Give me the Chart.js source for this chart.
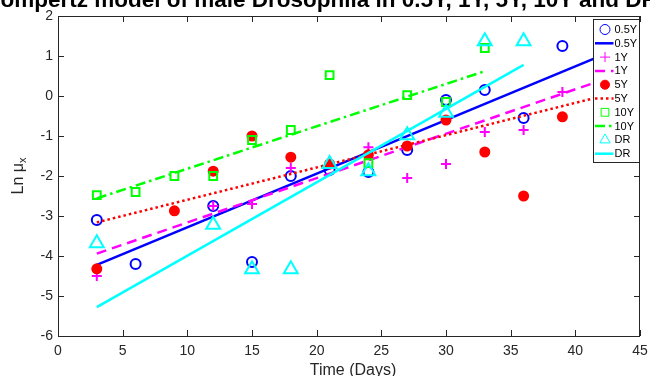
<!DOCTYPE html>
<html>
<head>
<meta charset="utf-8">
<script src="https://cdn.jsdelivr.net/npm/chart.js@4.4.1/dist/chart.umd.min.js"></script>
<style>
  html, body { margin: 0; padding: 0; background: #fff; }
  #wrap { position: relative; width: 650px; height: 376px; overflow: hidden; font-family: "Liberation Sans", Arial, sans-serif; }
  #chart { position: absolute; left: 0; top: 0; }
  .title { position: absolute; top: -11px; left: -17px; line-height: 22px; white-space: nowrap; font-weight: bold; font-size: 22.5px; color: #000; }
  .xlabel { position: absolute; left: 253px; width: 200px; top: 361px; line-height: 18px; text-align: center; font-size: 16px; color: #262626; white-space: nowrap; }
  .ylabel { position: absolute; left: -12px; top: 166px; width: 60px; height: 20px; line-height: 20px; text-align: center; font-size: 16px; color: #262626; transform: rotate(-90deg); white-space: nowrap; }
  .ylabel sub { font-size: 11px; vertical-align: -3px; }
</style>
</head>
<body>
<div id="wrap">
  <canvas id="chart" width="650" height="376"></canvas>
  <div class="title">Gompertz model of male Drosophila in 0.5Y, 1Y, 5Y, 10Y and DR</div>
  <div class="xlabel">Time (Days)</div>
  <div class="ylabel">Ln &mu;<sub>x</sub></div>
</div>
<script>
// 0.5Y
const days05 = [3, 6, 12, 15, 18, 21, 24, 27, 30, 33, 36, 39];
const lnMu05 = [-3.1, -4.2, -2.75, -4.15, -2.0, -1.85, -1.9, -1.35, -0.1, 0.15, -0.55, 1.25];
const fitDays05 = [3, 42];
const fitLn05 = [-4.22, 1.01];

// 1Y
const days1 = [3, 12, 15, 18, 24, 27, 30, 33, 36, 39];
const lnMu1 = [-4.5, -2.75, -2.7, -1.8, -1.28, -2.05, -1.7, -0.9, -0.85, 0.1];
const fitDays1 = [3, 42];
const fitLn1 = [-3.94, 0.39];

// 5Y
const days5 = [3, 9, 12, 15, 18, 21, 24, 27, 30, 33, 36, 39];
const lnMu5 = [-4.32, -2.87, -1.88, -1.0, -1.53, -1.7, -1.47, -1.25, -0.6, -1.4, -2.5, -0.52];
const fitDays5 = [3, 42];
const fitLn5 = [-3.16, -0.01];

// 10Y
const days10 = [3, 6, 9, 12, 15, 18, 21, 24, 27, 30, 33];
const lnMu10 = [-2.48, -2.4, -2.0, -2.0, -1.1, -0.85, 0.52, -1.68, 0.02, -0.15, 1.2];
const fitDays10 = [3, 33];
const fitLn10 = [-2.56, 0.62];

// DR
const daysDR = [3, 12, 15, 18, 21, 24, 27, 30, 33, 36];
const lnMuDR = [-3.68, -3.22, -4.33, -4.33, -1.7, -1.88, -0.98, -0.42, 1.37, 1.37];
const fitDaysDR = [3, 36];
const fitLnDR = [-5.28, 0.78];

const xTicks = [0, 5, 10, 15, 20, 25, 30, 35, 40, 45];
const yTicks = [-6, -5, -4, -3, -2, -1, 0, 1, 2];

const BLUE = '#0000ff', MAGENTA = '#ff00ff', RED = '#ff0000', GREEN = '#00ff00', CYAN = '#00ffff';
const AXIS = '#262626';

function pts(xs, ys) {
    return xs.map((x, i) => ({ x: x, y: ys[i] }));
}

function markers(label, xs, ys, color, style, radius, filled) {
    return {
        label: label,
        data: pts(xs, ys),
        showLine: false,
        pointStyle: style,
        pointRadius: radius,
        pointHoverRadius: radius,
        pointBorderWidth: 2,
        pointBorderColor: color,
        pointBackgroundColor: filled ? color : 'rgba(0,0,0,0)'
    };
}

function fitLine(label, xs, ys, color, dash) {
    return {
        label: label,
        data: pts(xs, ys),
        showLine: true,
        borderColor: color,
        borderWidth: 2.5,
        borderDash: dash,
        borderCapStyle: 'butt',
        pointRadius: 0,
        pointHoverRadius: 0,
        fill: false,
        tension: 0
    };
}

const datasets = [
    markers('0.5Y', days05, lnMu05, BLUE, 'circle', 5, false),
    fitLine('0.5Y', fitDays05, fitLn05, BLUE, []),
    markers('1Y', days1, lnMu1, MAGENTA, 'cross', 5, false),
    fitLine('1Y', fitDays1, fitLn1, MAGENTA, [10, 6]),
    markers('5Y', days5, lnMu5, RED, 'circle', 4.5, true),
    fitLine('5Y', fitDays5, fitLn5, RED, [2.5, 3]),
    markers('10Y', days10, lnMu10, GREEN, 'rect', 5.5, false),
    fitLine('10Y', fitDays10, fitLn10, GREEN, [10, 4, 2.5, 4]),
    markers('DR', daysDR, lnMuDR, CYAN, 'triangle', 8, false),
    fitLine('DR', fitDaysDR, fitLnDR, CYAN, [])
];
// later series sit on top, like the original plot
datasets.forEach((d, i) => { d.order = datasets.length - i; });

// box with inward ticks on all four sides
const boxAxes = {
    id: 'boxAxes',
    beforeDatasetsDraw(chart) {
        const { ctx, chartArea: a, scales: { x, y } } = chart;
        const len = 6;
        ctx.save();
        ctx.strokeStyle = AXIS;
        ctx.lineWidth = 1;
        ctx.beginPath();
        xTicks.forEach(v => {
            const px = Math.round(x.getPixelForValue(v)) + 0.5;
            ctx.moveTo(px, a.bottom); ctx.lineTo(px, a.bottom - len);
            ctx.moveTo(px, a.top); ctx.lineTo(px, a.top + len);
        });
        yTicks.forEach(v => {
            const py = Math.round(y.getPixelForValue(v)) + 0.5;
            ctx.moveTo(a.left, py); ctx.lineTo(a.left + len, py);
            ctx.moveTo(a.right, py); ctx.lineTo(a.right - len, py);
        });
        ctx.stroke();
        ctx.strokeRect(a.left + 0.5, a.top + 0.5, a.right - a.left - 1, a.bottom - a.top);
        ctx.restore();
    }
};

// legend box inside the plot, top right
const boxLegend = {
    id: 'boxLegend',
    afterDraw(chart) {
        const ctx = chart.ctx;
        const left = 593.5, top = 19.5, w = 46, h = 143;
        ctx.save();
        ctx.fillStyle = '#fff';
        ctx.fillRect(left, top, w, h);
        ctx.strokeStyle = AXIS;
        ctx.lineWidth = 1;
        ctx.strokeRect(left, top, w, h);
        chart.data.datasets.forEach((ds, i) => {
            const cy = top + 10 + i * 13.8;
            if (ds.showLine) {
                ctx.save();
                ctx.strokeStyle = ds.borderColor;
                ctx.lineWidth = ds.borderWidth;
                ctx.setLineDash(ds.borderDash);
                ctx.beginPath();
                ctx.moveTo(left + 1.5, cy);
                ctx.lineTo(left + 20, cy);
                ctx.stroke();
                ctx.restore();
            } else {
                ctx.save();
                ctx.strokeStyle = ds.pointBorderColor;
                ctx.fillStyle = ds.pointBackgroundColor;
                Chart.helpers.drawPoint(ctx, {
                    pointStyle: ds.pointStyle,
                    radius: Math.min(ds.pointRadius, 6),
                    borderWidth: ds.pointBorderWidth,
                    rotation: 0
                }, left + 11.5, cy);
                ctx.restore();
            }
            ctx.fillStyle = '#000';
            ctx.font = '11px "Liberation Sans", Arial, sans-serif';
            ctx.textBaseline = 'middle';
            ctx.textAlign = 'left';
            ctx.fillText(ds.label, left + 21, cy + 0.5);
        });
        ctx.restore();
    }
};

new Chart(document.getElementById('chart').getContext('2d'), {
    type: 'scatter',
    data: { datasets: datasets },
    options: {
        responsive: false,
        animation: false,
        devicePixelRatio: 1,
        layout: { padding: { top: 16, right: 9, left: 0, bottom: 0 } },
        plugins: {
            legend: { display: false },
            tooltip: { enabled: false }
        },
        scales: {
            x: {
                type: 'linear',
                min: 0,
                max: 45,
                afterFit: s => { s.height = 40; s.paddingLeft = 0; s.paddingRight = 0; },
                afterBuildTicks: s => { s.ticks = xTicks.map(v => ({ value: v })); },
                grid: { display: false, drawTicks: false },
                border: { display: false },
                ticks: { color: AXIS, padding: 7, maxRotation: 0, font: { family: '"Liberation Sans", Arial, sans-serif', size: 14 } }
            },
            y: {
                type: 'linear',
                min: -6,
                max: 2,
                afterFit: s => { s.width = 58; s.paddingTop = 0; s.paddingBottom = 0; },
                afterBuildTicks: s => { s.ticks = yTicks.map(v => ({ value: v })); },
                grid: { display: false, drawTicks: false },
                border: { display: false },
                ticks: { color: AXIS, padding: 5, font: { family: '"Liberation Sans", Arial, sans-serif', size: 14 } }
            }
        }
    },
    plugins: [boxAxes, boxLegend]
});
</script>
</body>
</html>
